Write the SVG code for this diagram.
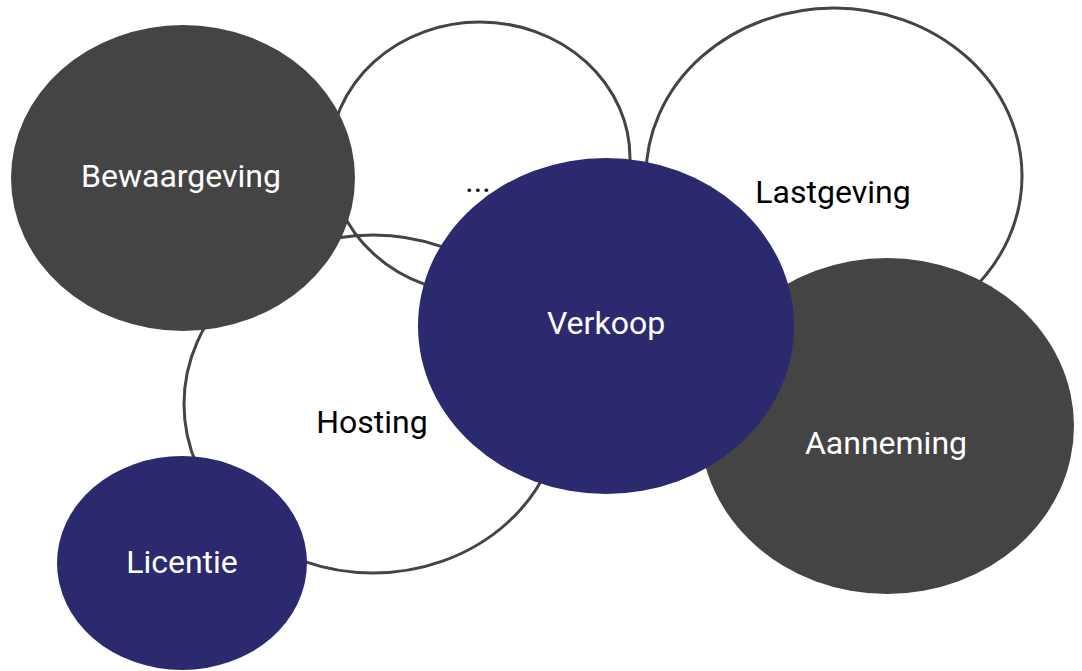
<svg xmlns="http://www.w3.org/2000/svg" width="1082" height="671" viewBox="0 0 1082 671">
<style>
.o{fill:none;stroke:#444444;stroke-width:3}
.d{fill:#444444}
.n{fill:#2b2a6e}
.tw{font-family:Roboto,"Liberation Sans",sans-serif;font-size:32px;fill:#ffffff;text-anchor:middle}
.tb{font-family:Roboto,"Liberation Sans",sans-serif;font-size:32px;fill:#000000;text-anchor:middle}
</style>
<rect width="1082" height="671" fill="#ffffff"/>
<g id="dots"><ellipse class="o" cx="480" cy="158" rx="150" ry="136"/><text class="tb" x="478" y="192">...</text></g>
<g id="lastgeving"><ellipse class="o" cx="834" cy="176" rx="188" ry="168"/><text class="tb" x="833" y="203">Lastgeving</text></g>
<g id="hosting"><ellipse class="o" cx="373" cy="404" rx="189" ry="169"/><text class="tb" x="372" y="433">Hosting</text></g>
<g id="bewaargeving"><ellipse class="d" cx="183" cy="178" rx="172" ry="153"/><text class="tw" x="181" y="187">Bewaargeving</text></g>
<g id="aanneming"><ellipse class="d" cx="887" cy="426" rx="187" ry="168"/><text class="tw" x="886" y="454">Aanneming</text></g>
<g id="verkoop"><ellipse class="n" cx="606" cy="326" rx="188" ry="168"/><text class="tw" x="606" y="334">Verkoop</text></g>
<g id="licentie"><ellipse class="n" cx="182" cy="563" rx="125" ry="107"/><text class="tw" x="182" y="573">Licentie</text></g>
<g id="connectors"></g>
</svg>
